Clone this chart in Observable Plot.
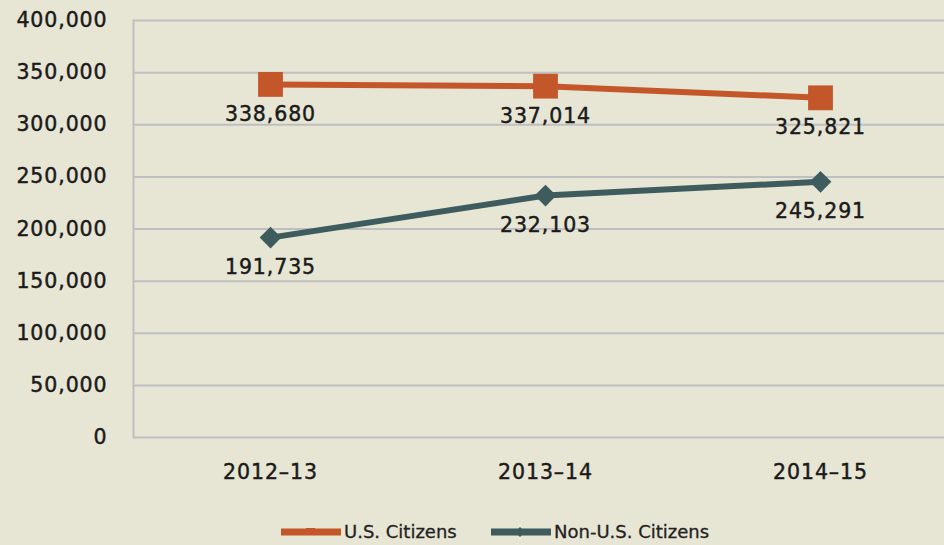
<!DOCTYPE html>
<html>
<head>
<meta charset="utf-8">
<script src="https://cdn.jsdelivr.net/npm/d3@7"></script>
<script src="https://cdn.jsdelivr.net/npm/@observablehq/plot@0.6"></script>
<style>
  html, body { margin: 0; padding: 0; background: #E7E5D4; width: 944px; height: 545px; overflow: hidden; }
  #chart svg { display: block; background: #E7E5D4; }
  #legend { position: relative; height: 33px; font-family: "DejaVu Sans", sans-serif; font-size: 18px; line-height: 20px; color: #222; -webkit-text-stroke: 0.3px #222; }
  .item { position: absolute; top: 10px; display: flex; align-items: center; }
  .item svg { display: block; margin-right: 2px; }
  .lbl { letter-spacing: 0.9px; stroke: #1a1a1a; stroke-width: 0.45px; }
</style>
</head>
<body>
<div id="chart"></div>
<div id="legend"></div>
<script>
const years = ["2012–13", "2013–14", "2014–15"];
const usCitizens = [338680, 337014, 325821];
const nonUsCitizens = [191735, 232103, 245291];
const seriesNames = ["U.S. Citizens", "Non-U.S. Citizens"];
const yTicks = [0, 50000, 100000, 150000, 200000, 250000, 300000, 350000, 400000];
const colors = ["#C4572A", "#3E5B5E"];

const data = [];
years.forEach((y, i) => {
  data.push({year: y, series: seriesNames[0], value: usCitizens[i]});
  data.push({year: y, series: seriesNames[1], value: nonUsCitizens[i]});
});
const fmt = d3.format(",");

const chart = Plot.plot({
  width: 944,
  height: 512,
  marginLeft: 133,
  marginRight: 0,
  marginTop: 20,
  marginBottom: 75,
  style: {background: "#E7E5D4", fontFamily: "DejaVu Sans, sans-serif", color: "#1a1a1a"},
  x: {type: "point", domain: years, range: [270, 820], padding: 0, label: null},
  y: {domain: [0, 400000], label: null},
  color: {domain: seriesNames, range: colors},
  marks: [
    Plot.ruleY(yTicks, {stroke: "#BEBFC1", strokeWidth: 2}),
    Plot.frame({anchor: "left", stroke: "#BEBFC1", strokeWidth: 2}),
    Plot.axisY({ticks: yTicks, tickFormat: fmt, tickSize: 0, tickPadding: 26, fontSize: 20.5, label: null, className: "lbl"}),
    Plot.axisX({tickSize: 0, tickPadding: 27, fontSize: 20.5, label: null, className: "lbl"}),
    Plot.line(data, {x: "year", y: "value", z: "series", stroke: "series", strokeWidth: 6}),
    Plot.dot(data.filter(d => d.series === seriesNames[0]), {x: "year", y: "value", symbol: "square", r: 14, fill: colors[0], stroke: "none"}),
    Plot.dot(data.filter(d => d.series === seriesNames[1]), {x: "year", y: "value", symbol: "diamond2", r: 9.8, fill: colors[1], stroke: "none"}),
    Plot.text(data, {x: "year", y: "value", text: d => fmt(d.value), dy: 30, fontSize: 20.5, fill: "#1a1a1a", className: "lbl"})
  ]
});
document.getElementById("chart").appendChild(chart);

// legend
const legend = document.getElementById("legend");
const lefts = [280, 490];
seriesNames.forEach((name, i) => {
  const item = document.createElement("div");
  item.className = "item";
  item.style.left = lefts[i] + "px";
  const marker = i === 0
    ? `<rect x="26" y="3" width="9" height="6" fill="${colors[0]}"/>`
    : `<path d="M30 2 L35 7 L30 12 L25 7 Z" fill="${colors[1]}"/>`;
  item.innerHTML = `<svg width="62" height="14"><line x1="1" y1="7" x2="61" y2="7" stroke="${colors[i]}" stroke-width="7"/>${marker}</svg><span>${name}</span>`;
  legend.appendChild(item);
});
</script>
</body>
</html>
